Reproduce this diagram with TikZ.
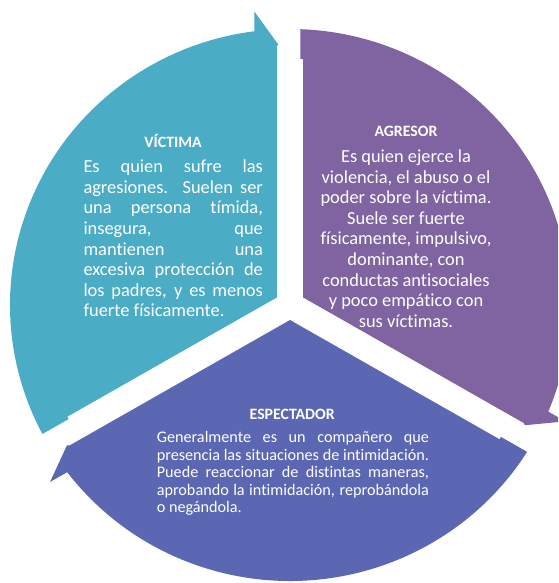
\documentclass[tikz,border=0pt]{standalone}
\usepackage{fontspec}
\setmainfont{Carlito}[Ligatures={NoCommon}]
\definecolor{victima}{RGB}{75,172,198}
\definecolor{agresor}{RGB}{128,100,162}
\definecolor{espect}{RGB}{91,103,178}
\newcommand\jrow[1]{\hbox to\hsize{\spaceskip=.23em plus 1fil\relax #1}}
\newcommand\lrow[1]{\hbox to\hsize{#1\hfil}}
\newcommand\crow[1]{\hbox to\hsize{\hfil#1\hfil}}
\tikzset{
  titletext/.style={anchor=base, inner sep=0pt, text=white, font=\bfseries\fontsize{15.8}{19}\selectfont},
  bodytext/.style={inner sep=0pt, text=white},
}
\begin{document}
\begin{tikzpicture}[x=1pt,y=1pt]
\useasboundingbox (0,0) rectangle (558,-583);
\clip (0,0) rectangle (558,-583);
\foreach \ang/\col in {0/victima,-120/agresor,120/espect}{
  \begin{scope}[shift={(290,-305)},xscale=1.0145,rotate=\ang]
    \fill[\col] (-13,7.5) -- (-13,258.3) -- (-11.7,260.7) -- (-35,293.3) -- (-35,273.77)
      arc[start angle=97.28, end angle=207.86, radius=276]
      -- (-218.2,-114.1) -- (-219.5,-111.7) -- cycle;
  \end{scope}
}
% titles
\node[titletext] (tv) at (173.1,-147) {VÍCTIMA};
\node[titletext] (ta) at (406,-136.5) {AGRESOR};
\node[titletext] (te) at (292.2,-419.2) {ESPECTADOR};
% bodies
\node[bodytext, anchor=base west, font=\fontsize{18.4}{20.6}\selectfont] (bv) at (83.3,-172.6)
 {\vtop{\hsize=179.4pt\baselineskip=20.6pt\lineskiplimit=-100pt
  \jrow{Es quien sufre las}
  \jrow{agresiones. Suelen ser}
  \jrow{una persona tímida,}
  \jrow{insegura, que}
  \jrow{mantienen una}
  \jrow{excesiva protección de}
  \jrow{los padres, y es menos}
  \lrow{fuerte físicamente.}}};
\node[bodytext, anchor=base, font=\fontsize{18.4}{20.6}\selectfont] (ba) at (406,-162.5)
 {\vtop{\hsize=210pt\baselineskip=20.6pt\lineskiplimit=-100pt
  \crow{Es quien ejerce la}
  \crow{violencia, el abuso o el}
  \crow{poder sobre la víctima.}
  \crow{Suele ser fuerte}
  \crow{físicamente, impulsivo,}
  \crow{dominante, con}
  \crow{conductas antisociales}
  \crow{y poco empático con}
  \crow{sus víctimas.}}};
\node[bodytext, anchor=base west, font=\fontsize{16.2}{17.5}\selectfont] (be) at (156.6,-442.5)
 {\vtop{\hsize=272.2pt\baselineskip=17.5pt\lineskiplimit=-100pt
  \jrow{Generalmente es un compañero que}
  \jrow{presencia las situaciones de intimidación.}
  \jrow{Puede reaccionar de distintas maneras,}
  \jrow{aprobando la intimidación, reprobándola}
  \lrow{o negándola.}}};
\end{tikzpicture}
\end{document}
